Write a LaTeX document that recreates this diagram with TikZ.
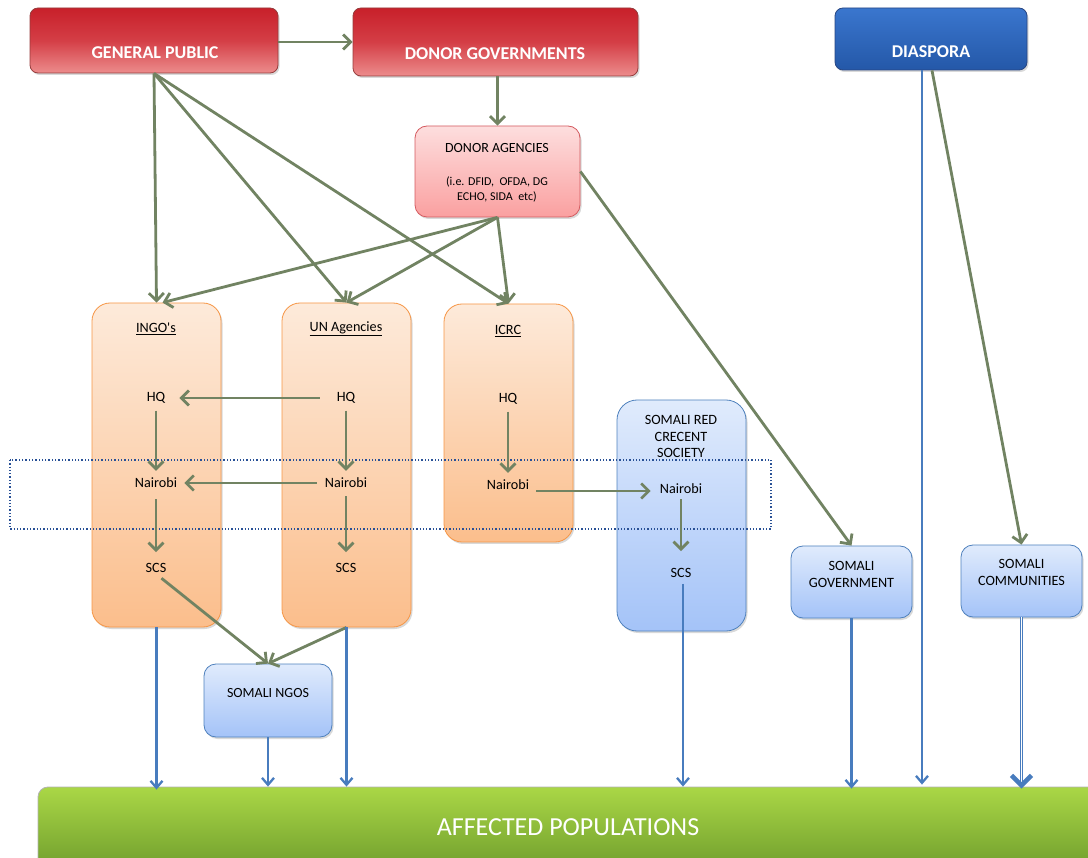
\documentclass[tikz,border=0pt]{standalone}
\usepackage{fontspec}
\setmainfont{Carlito}
\usetikzlibrary{arrows.meta,shadows}
\definecolor{garr}{RGB}{113,131,98}
\definecolor{barr}{RGB}{72,124,190}
\definecolor{rtop}{RGB}{200,32,42}
\definecolor{rmid}{RGB}{212,62,70}
\definecolor{rbot}{RGB}{236,140,140}
\definecolor{rline}{RGB}{150,60,60}
\definecolor{btop}{RGB}{58,118,206}
\definecolor{bbot}{RGB}{36,88,168}
\definecolor{bline}{RGB}{40,70,130}
\definecolor{ptop}{RGB}{253,222,222}
\definecolor{pbot}{RGB}{250,160,160}
\definecolor{pline}{RGB}{212,90,95}
\definecolor{otop}{RGB}{253,234,218}
\definecolor{obot}{RGB}{251,190,140}
\definecolor{oline}{RGB}{246,150,70}
\definecolor{ltop}{RGB}{224,235,252}
\definecolor{lbot}{RGB}{164,195,248}
\definecolor{lline}{RGB}{79,129,189}
\definecolor{gtop}{RGB}{170,215,70}
\definecolor{gbot}{RGB}{112,158,45}
\definecolor{dotc}{RGB}{40,80,150}
\begin{document}
\begin{tikzpicture}[x=1pt,y=-1pt,
  shad/.style={drop shadow={shadow xshift=1.5pt,shadow yshift=-2pt,opacity=0.3}},
  redbox/.style={draw=rline,line width=0.8pt,rounded corners=8pt,top color=rtop,bottom color=rbot,middle color=rmid,shad,inner sep=0pt},
  diabox/.style={draw=bline,line width=0.8pt,rounded corners=8pt,top color=btop,bottom color=bbot,shad,inner sep=0pt},
  pinkbox/.style={draw=pline,line width=0.8pt,rounded corners=12pt,top color=ptop,bottom color=pbot,shad,inner sep=0pt},
  orgbox/.style={draw=oline,line width=0.8pt,rounded corners=18pt,top color=otop,bottom color=obot,shad,inner sep=0pt},
  ltbox/.style={draw=lline,line width=0.8pt,rounded corners=#1,top color=ltop,bottom color=lbot,shad,inner sep=0pt},
  ltbox/.default=12pt,
  grnbar/.style={draw=black!30,line width=0.8pt,rounded corners=10pt,top color=gtop,bottom color=gbot,inner sep=0pt,shad},
  head/.style={text=white,font=\fontsize{18}{20}\selectfont\bfseries,inner sep=0pt},
  txt/.style={font=\fontsize{14.2}{16.7}\selectfont,inner sep=1pt,align=center},
  stxt/.style={font=\fontsize{12}{14.8}\selectfont,inner sep=1pt,align=center},
  garrow/.style={draw=garr,line width=2.8pt,-{Straight Barb[length=7.5pt,width=15pt]}},
  barrow/.style={draw=barr,line width=2.3pt,-{Straight Barb[length=7pt,width=12pt]}}
]
\useasboundingbox (0,0) rectangle (1088,858);
\clip (0,0) rectangle (1088,858);

% top boxes
\node[redbox,minimum width=248pt,minimum height=65pt] (gp) at (154,40.5) {};
\node[head] (gpt) at (155,53) {GENERAL PUBLIC};
\node[redbox,minimum width=285pt,minimum height=68pt] (dg) at (495.5,42) {};
\node[head] (dgt) at (495,54) {DONOR GOVERNMENTS};
\node[diabox,minimum width=192pt,minimum height=62pt] (dia) at (931,39) {};
\node[head] (diat) at (931,52) {DIASPORA};

% donor agencies
\node[pinkbox,minimum width=165pt,minimum height=91pt] (da) at (497.5,171.5) {};
\node[txt,font=\fontsize{14}{16}\selectfont] (dat) at (497,148) {DONOR AGENCIES};
\node[stxt] (das) at (497,189.5) {(i.e. DFID,\ \ OFDA, DG\\ECHO, SIDA\ \ etc)};

% columns
\node[orgbox,minimum width=129pt,minimum height=324pt] (ingo) at (156.5,465) {};
\node[orgbox,minimum width=129pt,minimum height=324pt] (un) at (346.5,465) {};
\node[orgbox,minimum width=129pt,minimum height=238pt] (icrc) at (508.5,423) {};
\node[ltbox=20pt,minimum width=129pt,minimum height=231pt] (srcs) at (681.5,515.5) {};
\node[ltbox,minimum width=121pt,minimum height=72pt] (sg) at (851.5,582) {};
\node[ltbox,minimum width=121pt,minimum height=72pt] (sc) at (1021.5,581) {};
\node[ltbox,minimum width=128pt,minimum height=73pt] (sngo) at (268,700.5) {};

% dotted band
\draw[dotc,line width=1.3pt,dotted] (10,460) rectangle (771,529);

% column texts
\node[txt] (t1) at (156,329) {\underline{INGO\textquotesingle s}};
\node[txt] (hq1) at (156,398) {HQ};
\node[txt] (nb1) at (156,483) {Nairobi};
\node[txt] (scs1) at (156,568) {SCS};
\node[txt] (t2) at (346,329) {\underline{UN Agencies}};
\node[txt] (hq2) at (346,398) {HQ};
\node[txt] (nb2) at (346,483) {Nairobi};
\node[txt] (scs2) at (346,568) {SCS};
\node[txt] (t3) at (508,331) {\underline{ICRC}};
\node[txt] (hq3) at (508,399) {HQ};
\node[txt] (nb3) at (508,485) {Nairobi};
\node[txt] (srcst) at (681,436.5) {SOMALI RED\\CRECENT\\SOCIETY};
\node[txt] (nb4) at (681,489) {Nairobi};
\node[txt] (scs4) at (681,573) {SCS};
\node[txt] (sgt) at (851.5,574.5) {SOMALI\\GOVERNMENT};
\node[txt] (sct) at (1021.5,572.5) {SOMALI\\COMMUNITIES};
\node[txt,font=\fontsize{14}{16}\selectfont] (sngot) at (268,693) {SOMALI NGOS};

% affected populations
\node[grnbar,minimum width=1060pt,minimum height=83pt] (bar) at (568,828.5) {};
\node[text=white,font=\fontsize{26}{28}\selectfont] (bart) at (568,827) {AFFECTED POPULATIONS};

% green connectors
\draw[garrow] (gp.east |- dg.west) -- (dg.west);
\draw[garrow] (dg.south -| da.north) -- (da.north);
\draw[garrow] (gp.south) -- (ingo.north);
\draw[garrow] (gp.south) -- (un.north);
\draw[garrow] (gp.south) -- (icrc.north);
\draw[garrow] (da.south) -- ([xshift=6pt]ingo.north);
\draw[garrow] (da.south) -- (un.north);
\draw[garrow] (da.south) -- (icrc.north);
\draw[garrow] (da.east) -- (sg.north);
\draw[garrow] ([xshift=1pt]dia.south) -- (sc.north);
\draw[garrow,shorten <=16pt,shorten >=13pt] (hq2.west) -- (hq1.east);
\draw[garrow,shorten <=7pt,shorten >=6pt] (nb2.west) -- (nb1.east);
\draw[garrow,shorten <=6pt,shorten >=6pt] (hq1) -- (nb1);
\draw[garrow,shorten <=10pt,shorten >=10pt] (nb1) -- (scs1);
\draw[garrow,shorten <=6pt,shorten >=6pt] (hq2) -- (nb2);
\draw[garrow,shorten <=7pt,shorten >=10pt] (nb2) -- (scs2);
\draw[garrow,shorten <=6pt,shorten >=6pt] (hq3) -- (nb3);
\draw[garrow,shorten <=6pt,shorten >=8pt] ([yshift=-6pt]nb3.east) -- ([yshift=-2pt]nb4.west);
\draw[garrow,shorten <=4pt,shorten >=16pt] (nb4) -- (scs4);
\draw[garrow,shorten <=7pt] (scs1.south) -- (sngo.north);
\draw[garrow] (un.south) -- (sngo.north);

% blue connectors
\draw[barrow] (ingo.south) -- ([yshift=-3pt]ingo.south |- bar.north);
\draw[barrow] (sngo.south) -- (sngo.south |- bar.north);
\draw[barrow] (un.south) -- (un.south |- bar.north);
\draw[barrow,shorten <=5pt] ([xshift=2pt]scs4.south) -- ([xshift=2pt]scs4.south |- bar.north);
\draw[barrow] (sg.south) -- ([yshift=-2pt]sg.south |- bar.north);
\draw[barrow] ([xshift=-9pt]dia.south) -- ([xshift=-9pt,yshift=2pt]dia.south |- bar.north);
\draw[draw=barr,line width=0.9pt,double=white,double distance=1.6pt,-{Straight Barb[length=10pt,width=20pt,line width=4.5pt]}] (sc.south) -- ([yshift=-2pt]sc.south |- bar.north);
\end{tikzpicture}
\end{document}
